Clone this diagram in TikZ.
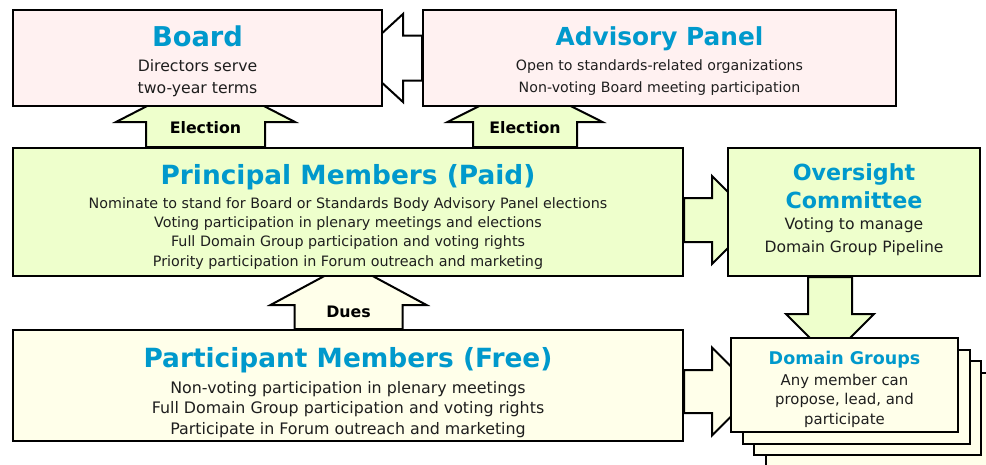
\documentclass[tikz,border=0pt]{standalone}
\usepackage{fontspec}
\setmainfont{DejaVu Sans}
\usetikzlibrary{backgrounds}

\definecolor{titleblue}{RGB}{0,153,204}
\definecolor{pinkfill}{RGB}{255,241,241}
\definecolor{greenfill}{RGB}{238,255,204}
\definecolor{yellowfill}{RGB}{255,255,234}
\definecolor{bodytext}{RGB}{30,30,30}

\newcommand{\boxtitle}[2]{{\fontsize{#1}{#1}\selectfont\bfseries\color{titleblue}#2}}
% fat arrow: style, base, angle, shaft half, head half, head base, tip
\newcommand{\blockarrow}[7]{%
  \draw[#1, shift={(#2)}, rotate=#3] (0,#4) -- (#6,#4) -- (#6,#5) -- (#7,0)
    -- (#6,-#5) -- (#6,-#4) -- (0,-#4) -- cycle;}

\begin{document}
\begin{tikzpicture}[x=1pt, y=-1pt]
\tikzstyle{box} = [rectangle, draw, line width=2pt, text=bodytext,
    align=center, inner sep=0pt]
\tikzstyle{pinkbox} = [box, fill=pinkfill]
\tikzstyle{greenbox} = [box, fill=greenfill]
\tikzstyle{yellowbox} = [box, fill=yellowfill]
\tikzstyle{fat} = [draw, line width=2pt, line join=miter]
\tikzstyle{arrowtext} = [font=\bfseries\fontsize{15.8}{18}\selectfont]

    \useasboundingbox (0,0) rectangle (986,464);

    % Place nodes
    \node [pinkbox, minimum width=369, minimum height=96,
        font=\fontsize{15.7}{22}\selectfont] (board) at (197.5,58)
        {\rule{0pt}{26.7pt}\boxtitle{27.3}{Board}\\[2.7pt] Directors serve\\ two-year terms};
    \node [pinkbox, minimum width=473, minimum height=96,
        font=\fontsize{14.2}{22.3}\selectfont] (advisory) at (659.5,58)
        {\rule{0pt}{24.9pt}\boxtitle{24.8}{Advisory Panel}\\[2.7pt] Open to standards-related organizations\\
         Non-voting Board meeting participation};
    \node [greenbox, minimum width=670, minimum height=128,
        font=\fontsize{14.3}{19.2}\selectfont] (principal) at (348,212)
        {\rule{0pt}{29.1pt}\boxtitle{26.4}{Principal Members (Paid)}\\[5.3pt]
         Nominate to stand for Board or Standards Body Advisory Panel elections\\
         Voting participation in plenary meetings and elections\\
         Full Domain Group participation and voting rights\\
         Priority participation in Forum outreach and marketing};
    \node [greenbox, minimum width=252, minimum height=128,
        font=\fontsize{15.6}{23}\selectfont] (oversight) at (854,212)
        {\boxtitle{22.2}{Oversight}\\[5.3pt] \boxtitle{22.2}{Committee}\\[-2.4pt]
         Voting to manage\\ Domain Group Pipeline\rule[-8.7pt]{0pt}{1pt}};
    \node [yellowbox, minimum width=670, minimum height=111,
        font=\fontsize{15.85}{20.8}\selectfont] (participant) at (348,385.5)
        {\rule{0pt}{34.1pt}\boxtitle{26.4}{Participant Members (Free)}\\[5.2pt]
         Non-voting participation in plenary meetings\\
         Full Domain Group participation and voting rights\\
         Participate in Forum outreach and marketing};
    \node [yellowbox, minimum width=227, minimum height=94] (dg3) at (879,419.5) {};
    \node [yellowbox, minimum width=227, minimum height=94] (dg2) at (867.5,408) {};
    \node [yellowbox, minimum width=227, minimum height=94] (dg1) at (856,396.5) {};
    \node [yellowbox, minimum width=227, minimum height=94,
        font=\fontsize{14.9}{19.5}\selectfont] (domain) at (844.5,385)
        {\rule{0pt}{22.3pt}\boxtitle{17.5}{Domain Groups}\\[1pt] Any member can\\
         propose, lead, and\\ participate};

    % Arrow bases
    \coordinate (elecL) at ([xshift=-142.5pt]principal.north);
    \coordinate (elecR) at ([xshift=177pt]principal.north);
    \coordinate (dues) at ([xshift=0.5pt]participant.north);
    \coordinate (p2o) at ([yshift=-8pt]principal.east);
    \coordinate (o2d) at ([xshift=-24pt]oversight.south);
    \coordinate (p2d) at ([yshift=-6pt]participant.east);

    % Draw edges
    \begin{scope}[on background layer]
    \blockarrow{fat, fill=white}{advisory.west}{180}{22.5}{44}{19}{67}
    \blockarrow{fat, fill=greenfill}{elecL}{90}{59.5}{89.5}{25}{71}
    \blockarrow{fat, fill=greenfill}{elecR}{90}{52}{77.5}{25}{64}
    \blockarrow{fat, fill=yellowfill}{dues}{90}{54}{78}{24}{66}
    \blockarrow{fat, fill=greenfill}{p2o}{0}{22}{44}{28}{72}
    \blockarrow{fat, fill=greenfill}{o2d}{-90}{22}{44}{37}{81}
    \blockarrow{fat, fill=yellowfill}{p2d}{0}{21.5}{44}{28}{72}
    \end{scope}
    \node [arrowtext] (elecLtext) at ([yshift=19.5pt]elecL) {Election};
    \node [arrowtext] (elecRtext) at ([yshift=19.5pt]elecR) {Election};
    \node [arrowtext] (duestext) at ([yshift=17pt]dues) {Dues};
\end{tikzpicture}
\end{document}
